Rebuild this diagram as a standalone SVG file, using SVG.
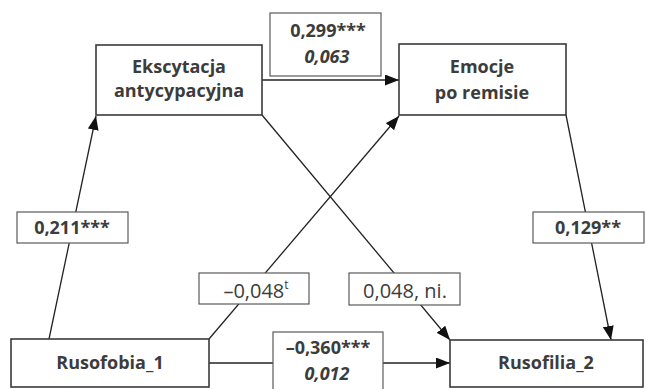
<svg xmlns="http://www.w3.org/2000/svg" width="647" height="389" viewBox="0 0 647 389">
<defs>
<marker id="arr" viewBox="0 0 14 11" refX="14" refY="5.5" markerWidth="14" markerHeight="11" markerUnits="userSpaceOnUse" orient="auto">
<path d="M0,0 L14,5.5 L0,11 z" fill="#111"/>
</marker>
</defs>
<style>
.node{fill:#fff;stroke:#3a3a3a;stroke-width:1.6}
.lbl{fill:#fff;stroke:#5a5a5a;stroke-width:1.2}
.t{font-family:"Open Sans",Lato,sans-serif;fill:#3c3c3c;text-anchor:middle}
.b{font-weight:bold;font-size:18px}
.r{font-size:20px}
.i{font-style:italic;font-weight:bold;font-size:18px}
.c{stroke:#222;stroke-width:1.3;fill:none;marker-end:url(#arr)}
</style>
<rect width="647" height="389" fill="#fff"/>
<g id="connectors">
<line class="c" x1="49" y1="339" x2="96" y2="116"/>
<line class="c" x1="262" y1="80" x2="399" y2="80"/>
<line class="c" x1="209" y1="339" x2="399" y2="116"/>
<line class="c" x1="262" y1="115" x2="450" y2="340"/>
<line class="c" x1="566" y1="115" x2="611" y2="340"/>
<line class="c" x1="209" y1="363" x2="450" y2="363"/>
</g>
<g id="ekscytacja">
<rect class="node" x="96" y="45" width="166" height="70"/>
<text class="t b" x="179" y="73">Ekscytacja</text>
<text class="t b" x="179" y="97">antycypacyjna</text>
</g>
<g id="emocje">
<rect class="node" x="399" y="44" width="167" height="71"/>
<text class="t b" x="482" y="73">Emocje</text>
<text class="t b" x="482" y="99">po remisie</text>
</g>
<g id="rusofobia">
<rect class="node" x="11" y="339" width="198" height="48"/>
<text class="t b" x="110" y="369">Rusofobia_1</text>
</g>
<g id="rusofilia">
<rect class="node" x="450" y="340" width="193" height="47"/>
<text class="t b" x="546" y="369">Rusofilia_2</text>
</g>
<g id="label-299">
<rect class="lbl" x="270" y="13" width="111" height="63"/>
<text class="t b" x="328" y="37">0,299***</text>
<text class="t i" x="327" y="63">0,063</text>
</g>
<g id="label-211">
<rect class="lbl" x="17" y="212" width="111" height="31"/>
<text class="t b" x="72" y="234">0,211***</text>
</g>
<g id="label-048t">
<rect class="lbl" x="199" y="273" width="110" height="31"/>
<text class="t r" x="256" y="298">–0,048<tspan font-size="12" dy="-9">t</tspan></text>
</g>
<g id="label-048ni">
<rect class="lbl" x="349" y="273" width="111" height="32"/>
<text class="t r" x="405" y="298">0,048, ni.</text>
</g>
<g id="label-129">
<rect class="lbl" x="533" y="212" width="111" height="31"/>
<text class="t b" x="588" y="234">0,129**</text>
</g>
<g id="label-360">
<rect class="lbl" x="273" y="332" width="110" height="58"/>
<text class="t b" x="328" y="354">–0,360***</text>
<text class="t i" x="327" y="380">0,012</text>
</g>
</svg>
